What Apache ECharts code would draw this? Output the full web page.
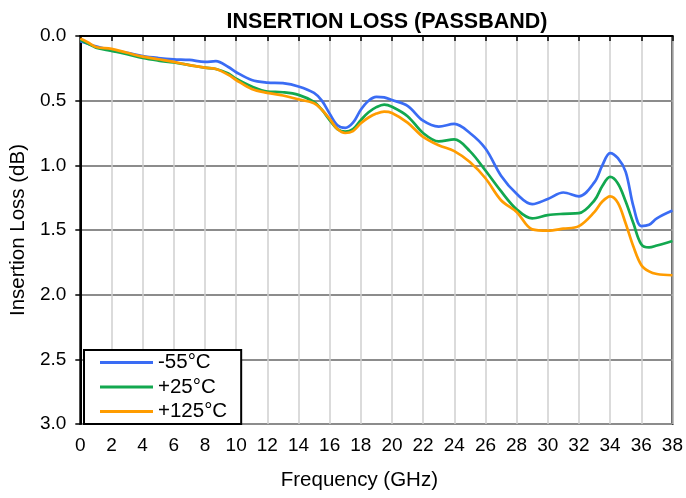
<!DOCTYPE html>
<html>
<head>
<meta charset="utf-8">
<script src="https://cdn.jsdelivr.net/npm/echarts@6/dist/echarts.min.js"></script>
<style>
html,body{margin:0;padding:0;background:#fff;}
#chart{width:686px;height:498px;}
</style>
</head>
<body>
<div id="chart"></div>
<script>
var freq = [0,0.5,1,2,3,4,5,6,7,8,8.7,9.5,10,11,12,13,14,15,15.5,16,16.5,17,17.5,18,18.5,19,19.5,20,21,22,23,24,25,26,27,28,29,30,31,32,33,33.5,34,34.5,35,35.5,36,36.5,37,38];
var lossM55 = [0.04,0.06,0.08,0.11,0.13,0.155,0.17,0.18,0.185,0.20,0.195,0.24,0.28,0.34,0.36,0.365,0.39,0.44,0.50,0.60,0.69,0.71,0.67,0.57,0.50,0.47,0.475,0.495,0.54,0.655,0.70,0.68,0.75,0.87,1.08,1.22,1.30,1.26,1.21,1.24,1.13,1.00,0.905,0.945,1.05,1.32,1.47,1.46,1.41,1.35];
var lossP25 = [0.03,0.06,0.09,0.115,0.14,0.17,0.19,0.205,0.225,0.245,0.255,0.29,0.33,0.39,0.43,0.435,0.455,0.51,0.57,0.65,0.72,0.74,0.72,0.65,0.59,0.55,0.53,0.547,0.62,0.75,0.815,0.80,0.89,1.04,1.20,1.34,1.41,1.385,1.375,1.37,1.27,1.16,1.09,1.14,1.28,1.45,1.61,1.635,1.62,1.585];
var lossP125 = [0.02,0.05,0.085,0.10,0.13,0.16,0.18,0.20,0.225,0.245,0.255,0.30,0.34,0.41,0.44,0.46,0.49,0.52,0.57,0.64,0.72,0.75,0.735,0.675,0.63,0.60,0.585,0.595,0.67,0.78,0.845,0.89,0.975,1.10,1.27,1.36,1.495,1.505,1.49,1.47,1.36,1.28,1.24,1.29,1.45,1.63,1.77,1.82,1.84,1.85];
var seriesNames = ['-55°C','+25°C','+125°C'];
var seriesColors = ['#3a6cf4','#12a84f','#ff9c00'];

function pairs(vals){ return freq.map(function(f,i){ return [f, vals[i]]; }); }
var allVals = [lossM55, lossP25, lossP125];

var FONT = '"Liberation Sans", Arial, sans-serif';
var chart = echarts.init(document.getElementById('chart'));
chart.setOption({
  animation: false,
  backgroundColor: '#fff',
  title: {
    text: 'INSERTION LOSS (PASSBAND)',
    left: 382, top: 6, textAlign: 'center',
    textStyle: {fontFamily: FONT, fontSize: 21.5, fontWeight: 'bold', color: '#000'}
  },
  grid: {left: 78, right: 10, top: 36, bottom: 74, show: true, borderColor: '#000', borderWidth: 2, backgroundColor: 'transparent'},
  legend: {
    orient: 'vertical', left: 84, top: 350,
    data: seriesNames,
    icon: 'rect', itemWidth: 53, itemHeight: 3, itemGap: 3.5,
    backgroundColor: '#fff', borderColor: '#000', borderWidth: 2,
    padding: [2, 14, 2, 16],
    textStyle: {fontFamily: FONT, fontSize: 20.5, color: '#000', lineHeight: 20}
  },
  xAxis: {
    type: 'value', min: 0, max: 38, interval: 2,
    name: 'Frequency (GHz)', nameLocation: 'middle', nameGap: 46,
    nameTextStyle: {fontFamily: FONT, fontSize: 20.5, color: '#000', padding: [0, 34, 0, 0]},
    axisLine: {show: true, lineStyle: {color: '#000', width: 2}},
    axisTick: {show: true, length: 5, lineStyle: {color: '#000', width: 1.5}},
    axisLabel: {fontFamily: FONT, fontSize: 19, color: '#000', margin: 12},
    splitLine: {show: true, lineStyle: {color: '#cfcfcf', width: 1.5}}
  },
  yAxis: {
    type: 'value', min: 0, max: 3, interval: 0.5, inverse: true,
    name: 'Insertion Loss (dB)', nameLocation: 'middle', nameGap: 48,
    nameTextStyle: {fontFamily: FONT, fontSize: 20.5, color: '#000'},
    axisLine: {show: true, lineStyle: {color: '#000', width: 2}},
    axisTick: {show: true, length: 5, lineStyle: {color: '#000', width: 1.5}},
    axisLabel: {fontFamily: FONT, fontSize: 19, color: '#000', margin: 14, formatter: function(v){ return v.toFixed(1); }},
    splitLine: {show: true, lineStyle: {color: '#8c8c8c', width: 2}}
  },
  series: seriesNames.map(function(n, k){
    return {
      name: n, type: 'line', data: pairs(allVals[k]), smooth: 0.35, showSymbol: false, symbol: 'none',
      lineStyle: {color: seriesColors[k], width: 2.7}, itemStyle: {color: seriesColors[k]}
    };
  })
});
</script>
</body>
</html>
